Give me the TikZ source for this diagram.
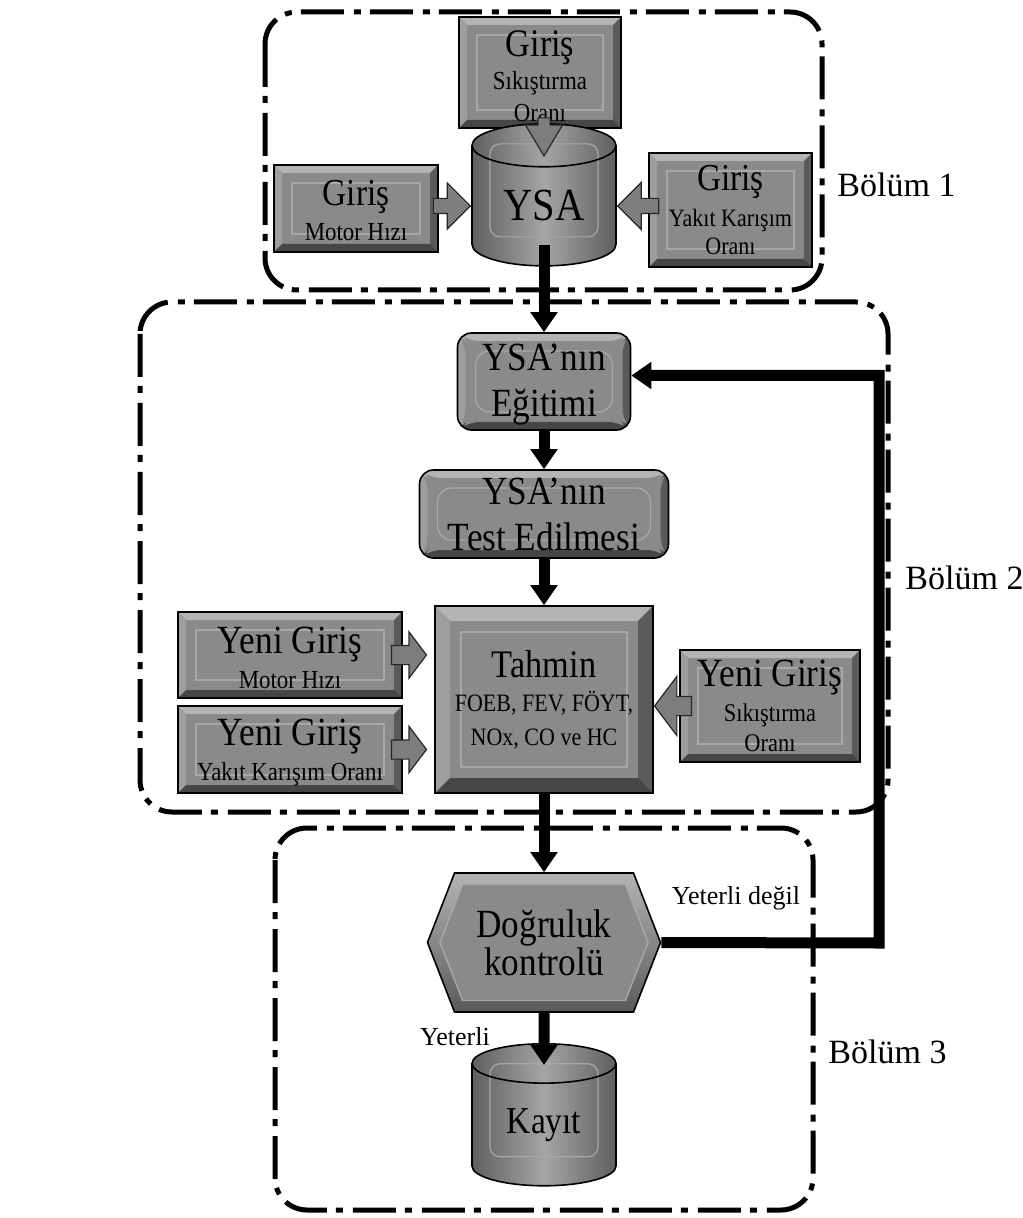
\documentclass[tikz,border=0pt]{standalone}
\usepackage{fontspec}
\setmainfont{Liberation Serif}
\newfontfamily\boxfont[FakeStretch=0.88]{Liberation Serif}
\usetikzlibrary{arrows.meta}
\usetikzlibrary{positioning}
\usetikzlibrary{shapes.geometric}
\usetikzlibrary{shapes.arrows}
\usetikzlibrary{shapes.symbols}

\definecolor{boxgray}{RGB}{138,138,138}
\definecolor{bevlight}{RGB}{180,180,180}
\definecolor{bevmid}{RGB}{158,158,158}
\definecolor{bevdark}{RGB}{90,90,90}
\definecolor{bevdarker}{RGB}{70,70,70}
\definecolor{facelight}{RGB}{168,168,168}
\definecolor{arrgray}{RGB}{125,125,125}
\definecolor{cyldark}{RGB}{95,95,95}
\definecolor{cyllight}{RGB}{165,165,165}

% bevel of a box: #1 band width, #2 inset of the inner frame
\newcommand{\bevel}[2]{%
  \coordinate (pnw) at (path picture bounding box.north west);
  \coordinate (pne) at (path picture bounding box.north east);
  \coordinate (psw) at (path picture bounding box.south west);
  \coordinate (pse) at (path picture bounding box.south east);
  \fill[bevlight] (pnw) -- (pne) -- ([shift={(-#1,-#1)}]pne) -- ([shift={(#1,-#1)}]pnw) -- cycle;
  \fill[bevmid] (pnw) -- ([shift={(#1,-#1)}]pnw) -- ([shift={(#1,#1)}]psw) -- (psw) -- cycle;
  \fill[bevdark] (pne) -- (pse) -- ([shift={(-#1,#1)}]pse) -- ([shift={(-#1,-#1)}]pne) -- cycle;
  \fill[bevdarker] (psw) -- (pse) -- ([shift={(-#1,#1)}]pse) -- ([shift={(#1,#1)}]psw) -- cycle;
  \draw[facelight, line width=0.7pt] ([shift={(#2,-#2)}]pnw) rectangle ([shift={(-#2,#2)}]pse);
}
\newcommand{\tsz}[2]{{\fontsize{#1}{#1}\selectfont #2}}

\tikzset{
  part/.style={line width=2.5pt, rounded corners=16pt, dash pattern=on 21.5pt off 4.5pt on 3.5pt off 5pt},
  box/.style={draw=black, line width=0.8pt, fill=boxgray, inner sep=0pt, align=center, path picture={\bevel{4pt}{9pt}}},
  roundbox/.style={box, rounded corners=7pt},
  bigbox/.style={box, path picture={\bevel{7.5pt}{13pt}}},
  cyl/.style={cylinder, shape border rotate=90, aspect=0.53, draw=black, line width=0.8pt,
    left color=cyldark, right color=cyldark, middle color=cyllight, inner sep=0pt, align=center,
    minimum width=72pt, minimum height=71pt,
    path picture={\draw[facelight, line width=0.6pt, rounded corners=5pt] ([shift={(9pt,-10pt)}]path picture bounding box.north west) rectangle ([shift={(-9pt,14.5pt)}]path picture bounding box.south east);}},
  hexout/.style={signal, signal to=east and west, signal pointer angle=137.5, draw=black, line width=0.8pt,
    top color=bevlight, bottom color=bevdark, minimum width=116.5pt, minimum height=69.5pt, inner sep=0pt},
  hexin/.style={signal, signal to=east and west, signal pointer angle=137.5, draw=facelight, line width=0.7pt,
    fill=boxgray, minimum width=104pt, minimum height=58pt, inner sep=0pt, align=center},
  blockarr/.style={single arrow, draw=black!85, line width=0.6pt, fill=arrgray, inner xsep=0pt, anchor=tip},
  conn/.style={line width=5.5pt, ->},
  lbl/.style={inner sep=0pt, font=\fontsize{17}{20}\selectfont},
  note/.style={inner sep=0pt, font=\fontsize{13}{15}\selectfont},
}

\begin{document}
\begin{tikzpicture}[line join=miter,>={Triangle[length=10pt,width=13pt]},x=0.5pt,y=-0.5pt]
\useasboundingbox (0,0) rectangle (1022,1218);
% the three parts
\draw[part] (265,12) rectangle (822,290);
\draw[part] (140,302) rectangle (888,812);
\draw[part] (275,828) rectangle (813,1210);
\node[lbl, anchor=west] (b1) at (837,185) {Bölüm 1};
\node[lbl, anchor=west] (b2) at (905,578) {Bölüm 2};
\node[lbl, anchor=west] (b3) at (828,1052) {Bölüm 3};

% part 1
\node[box, minimum width=81pt, minimum height=55.5pt, font=\boxfont\fontsize{13}{16.25}\selectfont] (gsik) at (540,72.5) {\tsz{19.5}{\rule{0pt}{17pt}Giriş}\\Sıkıştırma\\Oranı};
\node[cyl, font=\boxfont\fontsize{23}{24}\selectfont] (ysa) at (544,206) {YSA};
\node[box, minimum width=82pt, minimum height=43.5pt, font=\boxfont\fontsize{13}{17.5}\selectfont] (gmh) at (356,208.5) {\tsz{19}{\rule{0pt}{15pt}Giriş}\\Motor Hızı};
\node[box, minimum width=81.5pt, minimum height=57pt, font=\boxfont\fontsize{12.5}{14}\selectfont] (gyk) at (730.5,210) {\tsz{19}{Giriş}\\[4pt]Yakıt Karışım\\Oranı};
\node[blockarr, inner ysep=3.5pt, single arrow head extend=7.75pt, minimum height=18.5pt, minimum width=22.5pt] (amh) at (ysa.west) {};
\node[blockarr, rotate=180, inner ysep=3.5pt, single arrow head extend=8pt, minimum height=20.5pt, minimum width=23pt] (ayk) at (ysa.east) {};
\node[blockarr, rotate=-90, inner ysep=2.75pt, single arrow head extend=6.25pt, single arrow tip angle=62, minimum height=19pt, minimum width=18pt] (asik) at ([yshift=-17pt]ysa.north) {};

% part 2
\node[roundbox, minimum width=86.5pt, minimum height=48.5pt, font=\boxfont\fontsize{20}{23}\selectfont] (egit) at (544,381.5) {\rule{0pt}{16pt}YSA’nın\\Eğitimi};
\node[roundbox, minimum width=124.5pt, minimum height=44pt, font=\boxfont\fontsize{20}{23}\selectfont] (test) at (544,514) {YSA’nın\\Test Edilmesi};
\node[bigbox, minimum width=109pt, minimum height=93.5pt, font=\boxfont\fontsize{12.5}{17}\selectfont] (tahmin) at (544,699.5) {\tsz{19.5}{Tahmin}\\FOEB, FEV, FÖYT,\\NOx, CO ve HC};
\node[box, minimum width=112pt, minimum height=43pt, font=\boxfont\fontsize{13}{17.5}\selectfont] (ygmh) at (290,655) {\tsz{20}{\rule{0pt}{16pt}Yeni Giriş}\\Motor Hızı};
\node[box, minimum width=112pt, minimum height=43.5pt, font=\boxfont\fontsize{13}{17.5}\selectfont] (ygyk) at (290,749.5) {\tsz{20}{\rule{0pt}{16pt}Yeni Giriş}\\Yakıt Karışım Oranı};
\node[box, minimum width=90pt, minimum height=56pt, font=\boxfont\fontsize{12.75}{15}\selectfont] (ygsik) at (770,706) {\tsz{20}{Yeni Giriş}\\[2.5pt]Sıkıştırma\\Oranı};
\node[blockarr, xshift=-3.5pt, inner ysep=4.5pt, single arrow head extend=6.75pt, single arrow tip angle=106, minimum height=17.5pt, minimum width=22.5pt] (atmh) at (tahmin.west |- ygmh) {};
\node[blockarr, xshift=-3.5pt, inner ysep=4.5pt, single arrow head extend=6.75pt, single arrow tip angle=106, minimum height=17.5pt, minimum width=22.5pt] (atyk) at (tahmin.west |- ygyk) {};
\node[blockarr, rotate=180, inner ysep=4.5pt, single arrow head extend=10pt, single arrow tip angle=106, minimum height=18.5pt, minimum width=29pt] (atsik) at (tahmin.east |- ygsik) {};

% part 3
\node[hexout] (dogru) at (544,942.5) {};
\node[hexin, font=\boxfont\fontsize{20}{19}\selectfont] (dogin) at (dogru.center) {Doğruluk\\kontrolü};
\node[cyl, font=\boxfont\fontsize{19}{20}\selectfont] (kayit) at (544,1125) {Kayıt};
\node[note] (nok) at (736,898) {Yeterli değil};
\node[note] (ok) at (455,1037) {Yeterli};

% flow
\draw[conn] ([yshift=11pt]ysa.south) -- (egit.north);
\draw[conn] (egit.south) -- (test.north);
\draw[conn] (test.south) -- (tahmin.north);
\draw[conn] (tahmin.south) -- (dogru.north);
\draw[conn] (dogru.south) -- ([yshift=-11pt]kayit.north);
\coordinate (back) at (879,943);
\draw[conn] (dogru.east) -- (back) |- ([yshift=3pt]egit.east);
\end{tikzpicture}
\end{document}
